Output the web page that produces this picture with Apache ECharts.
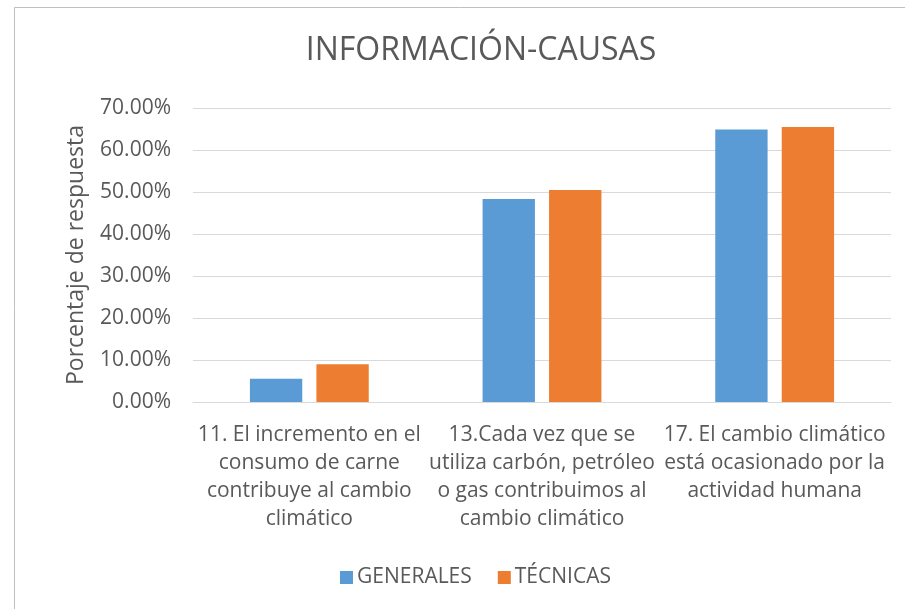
<!DOCTYPE html>
<html>
<head>
<meta charset="utf-8">
<script src="https://cdn.jsdelivr.net/npm/echarts@6/dist/echarts.min.js"></script>
<style>html,body{margin:0;padding:0;background:#fff;}#c{width:905px;height:609px;}</style>
</head>
<body>
<div id="c"></div>
<script>
const titleText = 'INFORMACIÓN-CAUSAS';
const yAxisName = 'Porcentaje de respuesta';
const categories = [
  '11. El incremento en el\nconsumo de carne\ncontribuye al cambio\nclimático',
  '13.Cada vez que se\nutiliza carbón, petróleo\no gas contribuimos al\ncambio climático',
  '17. El cambio climático\nestá ocasionado por la\nactividad humana'
];
const seriesNames = ['GENERALES', 'TÉCNICAS'];
const generales = [5.55, 48.35, 64.9];
const tecnicas = [9.0, 50.5, 65.5];
const yTicks = [0, 10, 20, 30, 40, 50, 60, 70];

const FONT = 'Open Sans';
const TXT = '#595959';
const chart = echarts.init(document.getElementById('c'), null, {renderer: 'canvas'});
chart.setOption({
  backgroundColor: '#fff',
  animation: false,
  graphic: [{
    type: 'rect', silent: true,
    shape: {x: 14.5, y: 7.5, width: 900, height: 610},
    style: {fill: 'none', stroke: '#BFBFBF', lineWidth: 1}
  }],
  title: {
    text: titleText, left: 476, textAlign: 'center', top: 30,
    textStyle: {fontFamily: FONT, fontSize: 32, fontWeight: 'normal', color: TXT}
  },
  legend: {
    data: seriesNames, left: 340, top: 567, padding: 0, icon: 'rect',
    itemWidth: 13, itemHeight: 13, itemGap: 26,
    textStyle: {fontFamily: FONT, fontSize: 21, color: TXT, padding: [0, 0, 0, -1]}
  },
  grid: {left: 193, right: 14, top: 108, bottom: 207, containLabel: false},
  xAxis: {
    type: 'category', data: categories,
    axisLine: {lineStyle: {color: '#D9D9D9', width: 1}},
    axisTick: {show: false},
    axisLabel: {fontFamily: FONT, fontSize: 21, color: TXT, margin: 19, lineHeight: 28, interval: 0, align: 'center'}
  },
  yAxis: {
    type: 'value', min: yTicks[0], max: yTicks[yTicks.length - 1], interval: 10,
    name: yAxisName, nameLocation: 'middle', nameGap: 105, nameRotate: 90,
    nameTextStyle: {fontFamily: FONT, fontSize: 23, color: TXT},
    axisLine: {show: false}, axisTick: {show: false},
    splitLine: {lineStyle: {color: '#D9D9D9', width: 1}},
    axisLabel: {fontFamily: FONT, fontSize: 21, color: TXT, margin: 22,
      formatter: v => v.toFixed(2) + '%'}
  },
  series: [
    {name: seriesNames[0], type: 'bar', data: generales, barWidth: '22.5%', barGap: '27%',
     itemStyle: {color: '#5B9BD5'}},
    {name: seriesNames[1], type: 'bar', data: tecnicas, barWidth: '22.5%', barGap: '27%',
     itemStyle: {color: '#ED7D31'}}
  ]
});
</script>
</body>
</html>
